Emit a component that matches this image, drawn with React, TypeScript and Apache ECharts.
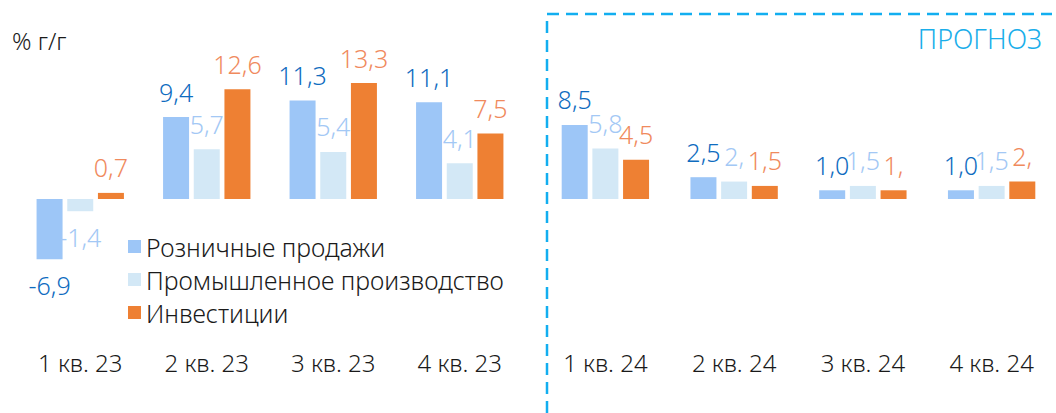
import React, { useEffect, useRef } from "react";
import * as echarts from "echarts";

const categories2023 = ["1 кв. 23", "2 кв. 23", "3 кв. 23", "4 кв. 23"];
const categories2024 = ["1 кв. 24", "2 кв. 24", "3 кв. 24", "4 кв. 24"];

const seriesNames = ["Розничные продажи", "Промышленное производство", "Инвестиции"];

const retail2023 = [-6.9, 9.4, 11.3, 11.1];
const industry2023 = [-1.4, 5.7, 5.4, 4.1];
const invest2023 = [0.7, 12.6, 13.3, 7.5];

const retail2024 = [8.5, 2.5, 1.0, 1.0];
const industry2024 = [5.8, 2.0, 1.5, 1.5];
const invest2024 = [4.5, 1.5, 1.0, 2.0];

const retailLabels2023 = ["-6,9", "9,4", "11,3", "11,1"];
const industryLabels2023 = ["-1,4", "5,7", "5,4", "4,1"];
const investLabels2023 = ["0,7", "12,6", "13,3", "7,5"];
const retailLabels2024 = ["8,5", "2,5", "1,0", "1,0"];
const industryLabels2024 = ["5,8", "2,", "1,5", "1,5"];
const investLabels2024 = ["4,5", "1,5", "1,", "2,"];

const barColors = ["#9dc6f7", "#d3e8f6", "#ee8033"];
const labelColors = ["#0f6cbf", "#a3c8f5", "#f08a5d"];

const FONT = "'Noto Sans', sans-serif";
const WEIGHT = 300;

export default function App() {
  const ref = useRef<HTMLDivElement>(null);

  useEffect(() => {
    if (!ref.current) return;
    const chart = echarts.init(ref.current, null, { renderer: "svg" });

    const makeSeries = (
      name: string,
      idx: number,
      values: number[],
      labels: string[],
      gridIndex: number
    ) => ({
      name,
      type: "bar",
      xAxisIndex: gridIndex,
      yAxisIndex: gridIndex,
      barWidth: 26,
      barGap: "18%",
      itemStyle: { color: barColors[idx] },
      data: values.map((v) => ({
        value: v,
        label: { position: v < 0 ? "bottom" : "top" },
      })),
      label: {
        show: true,
        distance: 13,
        color: labelColors[idx],
        fontFamily: FONT,
        fontWeight: WEIGHT,
        fontSize: 25,
        formatter: (p: any) => labels[p.dataIndex],
      },
    });

    const yAxisCommon = {
      type: "value",
      min: -10,
      max: 15,
      show: false,
    };
    const xAxisCommon = {
      type: "category",
      axisLine: { show: false, onZero: false },
      axisTick: { show: false },
      axisLabel: {
        color: "#1a1a1a",
        fontFamily: FONT,
        fontWeight: WEIGHT,
        fontSize: 24,
        margin: 64,
      },
    };

    chart.setOption({
      animation: false,
      textStyle: { fontFamily: FONT },
      grid: [
        { left: 17, width: 506, top: 68.2, height: 218 },
        { left: 541, width: 520, top: 68.2, height: 218 },
      ],
      xAxis: [
        { ...xAxisCommon, gridIndex: 0, data: categories2023 },
        { ...xAxisCommon, gridIndex: 1, data: categories2024 },
      ],
      yAxis: [
        { ...yAxisCommon, gridIndex: 0 },
        { ...yAxisCommon, gridIndex: 1 },
      ],
      legend: {
        orient: "vertical",
        left: 128,
        top: 234,
        padding: 0,
        itemWidth: 13,
        itemHeight: 13,
        itemGap: 8,
        icon: "rect",
        data: seriesNames,
        textStyle: {
          color: "#1a1a1a",
          fontSize: 24.8,
          fontFamily: FONT,
          fontWeight: WEIGHT,
          padding: [0, 0, 0, 0],
        },
      },
      graphic: [
        {
          type: "text",
          left: 12,
          top: 28,
          style: { text: "% г/г", fontSize: 24, fontFamily: FONT, fontWeight: WEIGHT, fill: "#1a1a1a" },
        },
        {
          type: "text",
          right: 14,
          top: 25,
          style: { text: "ПРОГНОЗ", fontSize: 27, fontFamily: FONT, fontWeight: WEIGHT, fill: "#1aaeea" },
        },
        {
          type: "polyline",
          shape: { points: [[547, 413], [547, 14], [1052, 14]] },
          style: { stroke: "#12aef0", lineWidth: 2.5, lineDash: [12, 7], fill: null },
        },
      ],
      series: [
        makeSeries(seriesNames[0], 0, retail2023, retailLabels2023, 0),
        makeSeries(seriesNames[1], 1, industry2023, industryLabels2023, 0),
        makeSeries(seriesNames[2], 2, invest2023, investLabels2023, 0),
        makeSeries(seriesNames[0], 0, retail2024, retailLabels2024, 1),
        makeSeries(seriesNames[1], 1, industry2024, industryLabels2024, 1),
        makeSeries(seriesNames[2], 2, invest2024, investLabels2024, 1),
      ],
    });

    return () => chart.dispose();
  }, []);

  return <div ref={ref} style={{ width: 1056, height: 413, position: "absolute", left: 0, top: 0 }} />;
}
